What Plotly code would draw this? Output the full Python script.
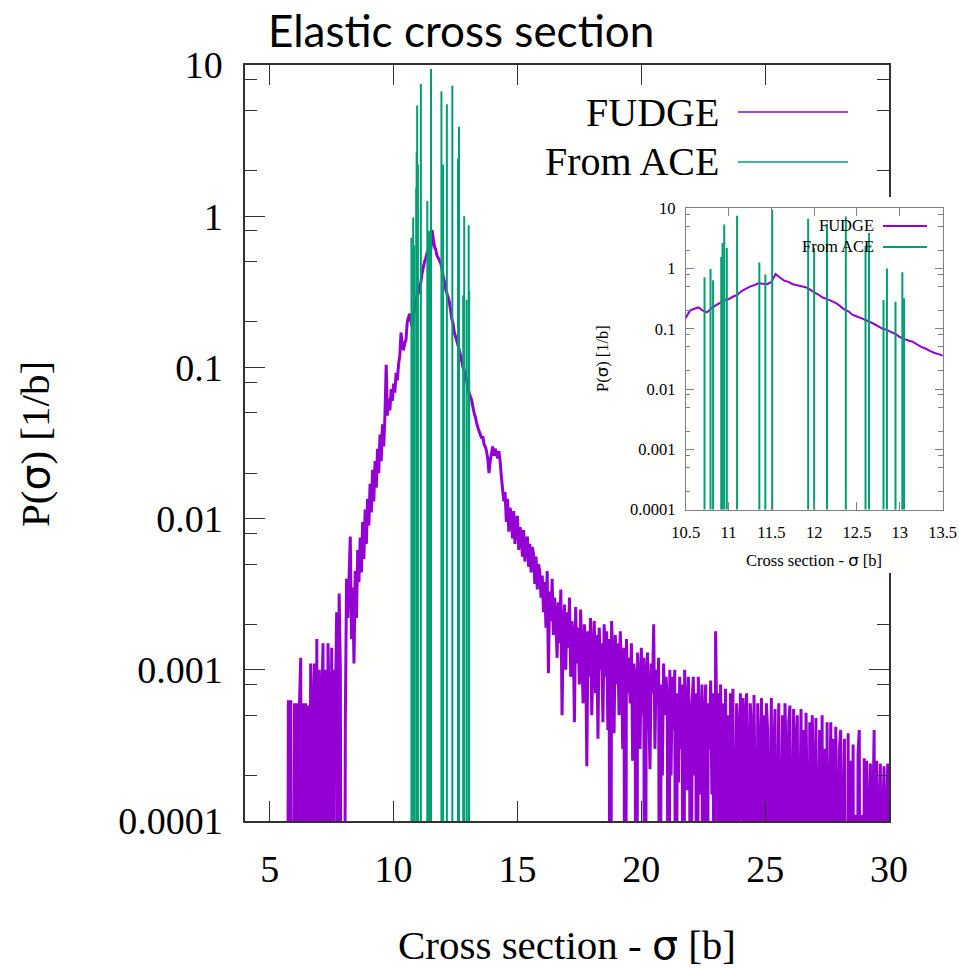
import plotly.graph_objects as go

W, H = 959, 969

# ------------------------------------------------------------------ data
# FUDGE histogram: bins every 0.05 b starting at 5.70 b
fudge_x0 = 5.70
fudge_dx = 0.05

# 5.70 - 8.15 b, values in units of 1e-4 /b (0 = empty bin)
fudge_low_tail_e4 = [0, 6.3, 0, 6.3, 0, 0, 6.0, 0, 6.0, 0,
                     6.0, 12, 0, 6.0, 0, 6.0, 0, 5.8, 0, 11,
                     5.8, 0, 11, 0, 16, 0, 10, 0, 5.8, 15,
                     0, 10, 0, 15, 5.8, 0, 14, 0, 10, 5.8,
                     24, 0, 32, 10, 0, 0, 0, 4.5, 40, 22]
# 8.20 - 10.30 b  [1/b]
fudge_rise = [4.0e-3, 7.6e-3, 1.6e-3, 3.5e-3, 1.1e-3, 4.5e-3, 2.2e-3, 6.2e-3, 3.8e-3, 7.5e-3,
              4.4e-3, 9.5e-3, 5.4e-3, 1.15e-2, 6.8e-3, 1.35e-2, 9.0e-3, 1.7e-2, 1.1e-2, 2.1e-2,
              1.3e-2, 2.4e-2, 1.6e-2, 2.9e-2, 2.0e-2, 3.6e-2, 2.4e-2, 4.2e-2, 3.0e-2, 4.8e-2,
              1.04e-1, 4.8e-2, 6.2e-2, 5.2e-2, 7.2e-2, 6.0e-2, 7.8e-2, 6.8e-2, 9.2e-2, 8.2e-2,
              1.05e-1, 1.2e-1, 1.7e-1]
# 10.35 - 13.50 b  [1/b]
fudge_peak = [0.14, 0.13, 0.145, 0.152, 0.20, 0.215, 0.226, 0.20, 0.187, 0.218,
              0.245, 0.27, 0.30, 0.31, 0.34, 0.363, 0.42, 0.46, 0.50, 0.53,
              0.57, 0.56, 0.55, 0.60, 0.81, 0.71, 0.63, 0.60, 0.55, 0.53,
              0.51, 0.49, 0.45, 0.40, 0.37, 0.33, 0.31, 0.29, 0.27, 0.24,
              0.21, 0.195, 0.17, 0.16, 0.15, 0.14, 0.13, 0.12, 0.11, 0.10,
              0.096, 0.088, 0.082, 0.073, 0.068, 0.064, 0.061, 0.055, 0.050, 0.047,
              0.043, 0.040, 0.038, 0.036]
# 13.55 - 16.00 b  [1/b]
fudge_shoulder = [0.034, 0.035, 0.031, 0.030, 0.028, 0.025, 0.020, 0.024, 0.027, 0.030,
                  0.026, 0.029, 0.027, 0.025, 0.028, 0.024, 0.019, 0.0156, 0.013, 0.015,
                  0.0095, 0.0135, 0.0082, 0.0118, 0.0105, 0.0074, 0.0112, 0.0068, 0.0098, 0.0104,
                  0.0062, 0.0088, 0.0079, 0.0056, 0.0084, 0.0052, 0.0071, 0.0076, 0.0048, 0.0068,
                  0.0044, 0.0065, 0.0058, 0.0037, 0.0056, 0.0034, 0.0050, 0.0045, 0.0030, 0.0042]
# 16.05 - 30.00 b, values in units of 1e-4 /b (0 = empty bin)
fudge_high_tail_e4 = [24, 38, 19, 45, 9.5, 33, 21, 40, 17, 30,
                      22, 12, 28, 15, 34, 5.0, 20, 27, 10, 24,
                      14, 30, 9, 21, 17, 4.5, 26, 11, 19, 8,
                      25, 12, 6, 20, 15, 2.3, 18, 9, 22, 5,
                      13, 21, 7, 17, 3.5, 19, 10, 15, 4.5, 20,
                      9, 18, 4, 16, 0, 21, 12, 3.8, 17, 8,
                      15, 5, 18, 10, 3, 14, 0, 16, 7, 12,
                      6, 15, 2.5, 11, 9, 0, 13, 8, 3, 14,
                      5, 12, 0, 9, 13, 6, 2.2, 11, 7, 20,
                      3, 10, 6, 12, 0, 8, 2, 11, 5, 9,
                      6, 0, 10, 2, 9, 4, 10, 0, 7, 1.8,
                      9, 3, 8, 0, 10, 5, 1.6, 9, 4, 0,
                      6, 9, 2, 7, 0, 9, 4, 1.5, 8, 0,
                      5, 8, 0, 6, 3, 8.5, 1.5, 7, 0, 18,
                      4, 7, 0, 8, 2, 6, 0, 7.5, 1.4, 5,
                      0, 7, 3, 7.5, 0, 1.3, 6, 4, 0, 7,
                      1.3, 6.5, 0, 5, 7, 2.5, 0, 6, 4, 0,
                      6.8, 1.2, 0, 6, 3, 0, 6.5, 1.2, 5, 0,
                      6, 4, 0, 1.2, 6.5, 0, 3, 5.5, 0, 1.2,
                      6, 0, 1.1, 5, 0, 6, 2.5, 0, 4.5, 5.8,
                      0, 1.1, 5.5, 0, 3.5, 5, 0, 1.1, 5.5, 0,
                      4, 0, 5.2, 1.1, 0, 4.5, 0, 5, 2, 0,
                      4.8, 0, 1.1, 4, 0, 5, 0, 3, 0, 4.5,
                      0, 1.1, 4.5, 0, 3.5, 0, 4.2, 1.1, 0, 3,
                      4, 0, 1.1, 3.5, 0, 0, 3.8, 0, 2.5, 0,
                      3.2, 0, 1.1, 0, 2.8, 4, 0, 1.1, 0, 2.6,
                      0, 2.5, 1.1, 0, 2.4, 0, 1.1, 4, 0, 2.5,
                      1.1, 0, 2.4, 0, 1.1, 2.3, 0, 1.1, 2.4, 0]

# From ACE: discrete cross-section values (impulses)
ace_x = [10.72, 10.79, 10.82, 10.915, 10.93, 10.95, 10.98, 11.10, 11.36, 11.43, 11.51,
         11.93, 12.00, 12.15, 12.37, 12.60, 12.64, 12.81, 12.85, 12.95, 13.03, 13.05]
ace_y = [0.72, 0.98, 0.64, 1.55, 2.65, 5.4, 2.2, 7.5, 1.26, 0.80, 9.4,
         6.7, 2.2, 5.5, 7.3, 2.4, 3.9, 0.30, 1.0, 0.28, 0.87, 0.32]

main_xticks = [5, 10, 15, 20, 25, 30]
inset_xticks = [10.5, 11, 11.5, 12, 12.5, 13, 13.5]
inset_xticklabels = ["10.5", "11", "11.5", "12", "12.5", "13", "13.5"]
y_ticks = [1e-4, 1e-3, 1e-2, 1e-1, 1, 10]
y_ticklabels = ["0.0001", "0.001", "0.01", "0.1", "1", "10"]
y_minor = [m * d for d in [1e-4, 1e-3, 1e-2, 1e-1, 1] for m in (2, 5, 8)]

# ------------------------------------------------------------------ build series
fudge_y = ([v * 1e-4 for v in fudge_low_tail_e4] + fudge_rise + fudge_peak
           + fudge_shoulder + [v * 1e-4 for v in fudge_high_tail_e4])
fudge_x = [round(fudge_x0 + i * fudge_dx, 4) for i in range(len(fudge_y))]
FLOOR = 1e-7  # empty bins drawn below the log axis
fudge_plot = [v if v > 0 else FLOOR for v in fudge_y]

imp_x, imp_y = [], []
for xv, yv in zip(ace_x, ace_y):
    imp_x += [xv, xv, None]
    imp_y += [FLOOR, yv, None]

PURPLE = "#9400D3"
GREEN = "#009E73"
SERIF = "Liberation Serif, Times New Roman, serif"
SIG = '<span style="font-family:DejaVu Sans">σ</span>'

fig = go.Figure()
fig.add_trace(go.Scatter(x=fudge_x, y=fudge_plot, mode="lines", xaxis="x", yaxis="y",
                         line=dict(color=PURPLE, width=3.0, simplify=False),
                         hoverinfo="skip", showlegend=False))
fig.add_trace(go.Scatter(x=imp_x, y=imp_y, mode="lines", xaxis="x", yaxis="y",
                         line=dict(color=GREEN, width=2), hoverinfo="skip", showlegend=False))
# white cover behind the inset (pasted picture)
fig.add_trace(go.Scatter(x=[None], y=[None], xaxis="x2", yaxis="y2", hoverinfo="skip",
                         showlegend=False))
fig.add_trace(go.Scatter(x=fudge_x, y=fudge_plot, mode="lines", xaxis="x3", yaxis="y3",
                         line=dict(color=PURPLE, width=2, simplify=False),
                         hoverinfo="skip", showlegend=False))
fig.add_trace(go.Scatter(x=imp_x, y=imp_y, mode="lines", xaxis="x3", yaxis="y3",
                         line=dict(color=GREEN, width=2), hoverinfo="skip", showlegend=False))

def px(xp):
    return xp / W

def py(yp):
    return 1 - yp / H

AX = "#333333"
AXI = "#808080"

common_main = dict(showline=True, linecolor=AX, linewidth=1.5, mirror="ticks",
                   ticks="inside", tickcolor=AX, tickwidth=1.3, ticklen=20,
                   showgrid=False, zeroline=False, automargin=False,
                   tickfont=dict(family=SERIF, size=38, color="black"))
common_inset = dict(showline=True, linecolor=AXI, linewidth=1, mirror="ticks",
                    ticks="inside", tickcolor=AXI, tickwidth=1, ticklen=8,
                    showgrid=False, zeroline=False, automargin=False,
                    tickfont=dict(family=SERIF, size=16.5, color="black"))

fig.update_layout(
    width=W, height=H, margin=dict(l=0, r=0, t=0, b=0, autoexpand=False),
    paper_bgcolor="white", plot_bgcolor="#fffffe",
    showlegend=False,
    xaxis=dict(domain=[px(245), px(889)], range=[4, 30], anchor="y",
               tickmode="array", tickvals=main_xticks, ticklabelstandoff=14, **common_main),
    yaxis=dict(domain=[py(821), py(65)], type="log", range=[-4, 1], anchor="x",
               tickmode="array", tickvals=y_ticks, ticktext=y_ticklabels, ticklabelstandoff=13,
               minor=dict(tickmode="array", tickvals=y_minor, ticks="inside", ticklen=12,
                          tickwidth=1.3, tickcolor=AX),
               **common_main),
    xaxis2=dict(domain=[px(580), 1.0], range=[0, 1], anchor="y2", visible=False,
                automargin=False),
    yaxis2=dict(domain=[py(573), py(197)], range=[0, 1], anchor="x2", visible=False,
                automargin=False),
    xaxis3=dict(domain=[px(685.7), px(942.6)], range=[10.5, 13.5], anchor="y3",
                tickmode="array", tickvals=inset_xticks, ticktext=inset_xticklabels,
                ticklabelstandoff=8, **common_inset),
    yaxis3=dict(domain=[py(509.5), py(208.3)], type="log", range=[-4, 1], anchor="x3",
                tickmode="array", tickvals=y_ticks, ticktext=y_ticklabels, ticklabelstandoff=6,
                minor=dict(tickmode="array", tickvals=y_minor, ticks="inside", ticklen=4.5,
                           tickwidth=1, tickcolor=AXI),
                **common_inset),
)

ann = []
# title
ann.append(dict(text="Elastic cross section", x=px(266), y=py(30), xref="paper", yref="paper",
                xanchor="left", yanchor="middle", showarrow=False,
                font=dict(family="Lato, Carlito, sans-serif", size=44, color="black")))
# main axis titles
ann.append(dict(text=f"Cross section - {SIG} [b]", x=px(567), y=py(945), xref="paper",
                yref="paper", xanchor="center", yanchor="middle", showarrow=False,
                font=dict(family=SERIF, size=41, color="black")))
ann.append(dict(text=f"P({SIG}) [1/b]", x=px(35), y=py(444), xref="paper", yref="paper",
                xanchor="center", yanchor="middle", textangle=-90, showarrow=False,
                font=dict(family=SERIF, size=41, color="black")))
# inset axis titles
ann.append(dict(text=f"Cross section - {SIG} [b]", x=px(814), y=py(560), xref="paper",
                yref="paper", xanchor="center", yanchor="middle", showarrow=False,
                font=dict(family=SERIF, size=16.5, color="black")))
ann.append(dict(text=f"P({SIG}) [1/b]", x=px(602), y=py(359), xref="paper", yref="paper",
                xanchor="center", yanchor="middle", textangle=-90, showarrow=False,
                font=dict(family=SERIF, size=16.5, color="black")))

shapes = []
# legends (gnuplot style: text then sample line)
for label, col, yy in [("FUDGE", PURPLE, 112), ("From ACE", GREEN, 162)]:
    ann.append(dict(text=label, x=px(721), y=py(yy), xref="paper", yref="paper",
                    xanchor="right", yanchor="middle", showarrow=False,
                    font=dict(family=SERIF, size=40, color="black")))
    shapes.append(dict(type="line", xref="paper", yref="paper", x0=px(738), x1=px(848),
                       y0=py(yy), y1=py(yy), line=dict(color=col, width=1.6)))
for label, col, yy in [("FUDGE", PURPLE, 226), ("From ACE", GREEN, 247)]:
    ann.append(dict(text=label, x=px(876), y=py(yy), xref="paper", yref="paper",
                    xanchor="right", yanchor="middle", showarrow=False,
                    font=dict(family=SERIF, size=16.5, color="black")))
    shapes.append(dict(type="line", xref="paper", yref="paper", x0=px(883), x1=px(927),
                       y0=py(yy), y1=py(yy), line=dict(color=col, width=2)))

fig.update_layout(annotations=ann, shapes=shapes)
fig.write_html("out.html", config={"displayModeBar": False},
               post_script="document.body.style.margin='0px';")
